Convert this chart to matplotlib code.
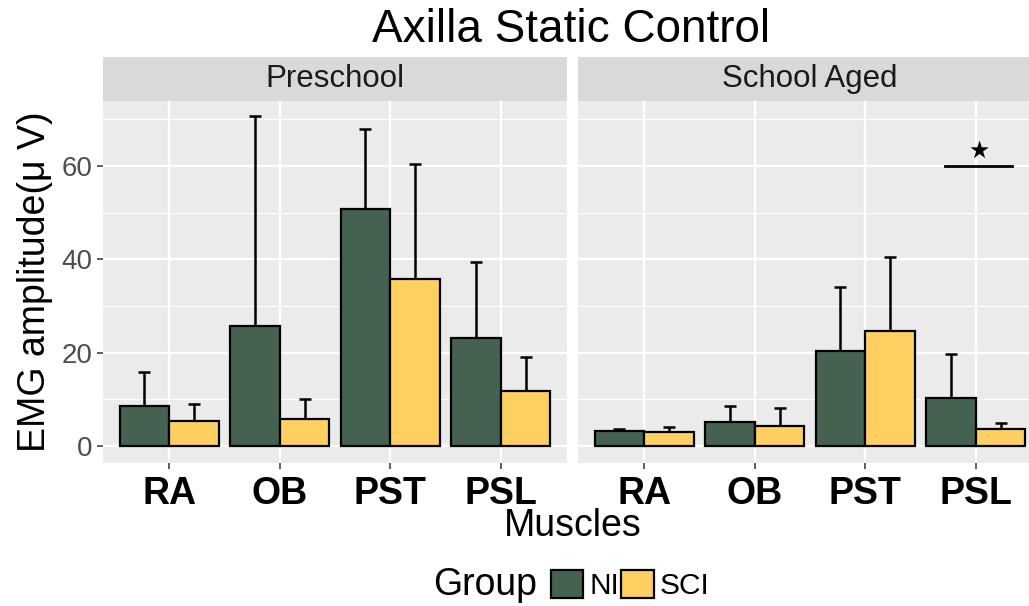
import numpy as np
import matplotlib
matplotlib.use("Agg")
import matplotlib.pyplot as plt
from matplotlib.patches import Patch

plt.rcParams['font.family'] = ['Liberation Sans', 'DejaVu Sans']

# data
muscles = ["RA", "OB", "PST", "PSL"]
panels = ["Preschool", "School Aged"]
groups = ["NI", "SCI"]

pre_ni = [8.6, 25.7, 50.7, 23.1]
pre_ni_top = [15.9, 70.6, 67.8, 39.5]
pre_sci = [5.3, 5.8, 35.8, 11.8]
pre_sci_top = [9.0, 10.0, 60.4, 19.0]

sch_ni = [3.2, 5.1, 20.4, 10.3]
sch_ni_top = [3.6, 8.7, 34.1, 19.7]
sch_sci = [3.0, 4.3, 24.6, 3.6]
sch_sci_top = [4.2, 8.1, 40.5, 5.0]

# significance marker on School Aged / PSL
sig_y = 60
sig_x = [3.72, 4.33]
star_y = 63.2

colors = {"NI": "#456150", "SCI": "#FED061"}

W, H = 1029, 606
fig = plt.figure(figsize=(W / 100, H / 100), dpi=100)


def px(x0, y0, x1, y1):
    # pixel box -> figure fraction
    return [x0 / W, 1 - y1 / H, (x1 - x0) / W, (y1 - y0) / H]


panel_boxes = [(103, 100.5, 567, 463), (578, 100.5, 1042, 463)]
strip_boxes = [(103, 57, 567, 100.5), (578, 57, 1042, 100.5)]
data = [(pre_ni, pre_ni_top, pre_sci, pre_sci_top),
        (sch_ni, sch_ni_top, sch_sci, sch_sci_top)]

x = np.arange(1, len(muscles) + 1)
bw = 0.45
axes = []
for i, name in enumerate(panels):
    ax = fig.add_axes(px(*panel_boxes[i]))
    axes.append(ax)
    ax.set_facecolor("#EBEBEB")
    for s in ax.spines.values():
        s.set_visible(False)
    ax.set_xlim(0.4, 4.6)
    ax.set_ylim(-3.6, 74.0)
    ax.set_yticks([0, 20, 40, 60])
    ax.set_yticks([10, 30, 50, 70], minor=True)
    ax.set_xticks(x)
    ax.grid(True, which="major", color="white", linewidth=1.6)
    ax.grid(True, which="minor", axis="y", color="white", linewidth=0.8)
    ax.set_axisbelow(True)
    ax.tick_params(which="major", length=4.5, width=1.1, color="#333333",
                   labelsize=20, labelcolor="#4D4D4D", pad=3)
    ax.tick_params(which="minor", length=0)
    ax.tick_params(axis="x", pad=5, labelcolor="black")
    ax.set_xticklabels(muscles, fontsize=27, fontweight="bold", color="black")
    if i == 1:
        ax.tick_params(axis="y", length=0, labelleft=False)

    ni, ni_top, sci, sci_top = data[i]
    for vals, tops, off, g in [(ni, ni_top, -bw / 2, "NI"), (sci, sci_top, bw / 2, "SCI")]:
        xs = x + off
        vals = np.array(vals)
        tops = np.array(tops)
        ax.errorbar(xs, vals, yerr=[np.zeros(len(vals)), tops - vals], fmt="none",
                    ecolor="black", elinewidth=1.8, capsize=4.3, capthick=1.8, zorder=2)
        ax.bar(xs, vals, width=bw, color=colors[g], edgecolor="black",
               linewidth=1.6, zorder=3)

    # strip on top
    sax = fig.add_axes(px(*strip_boxes[i]))
    sax.set_facecolor("#D9D9D9")
    sax.set_xticks([])
    sax.set_yticks([])
    for s in sax.spines.values():
        s.set_visible(False)
    sax.text(0.5, 0.5, name, transform=sax.transAxes, ha="center", va="center",
             fontsize=22.5, color="#1A1A1A")

axes[0].set_ylabel("EMG amplitude(μ V)", fontsize=27, labelpad=6)

ax = axes[1]
ax.plot(sig_x, [sig_y, sig_y], color="black", linewidth=2, zorder=4)
ax.text(4.03, star_y, "★", ha="center", va="center", fontsize=17,
        family=["DejaVu Sans"], zorder=4)

fig.text(571 / W, 1 - 30 / H, "Axilla Static Control", ha="center", va="center", fontsize=33)
fig.text(573 / W, 1 - 526 / H, "Muscles", ha="center", va="center", fontsize=27)

# legend
fig.text(433 / W, 1 - 585 / H, "Group", ha="left", va="center", fontsize=27)
handles = [Patch(facecolor=colors[g], edgecolor="black", linewidth=1.6) for g in groups]
fig.legend(handles, groups, loc="center left", bbox_to_anchor=(551 / W, 1 - 585 / H),
           ncol=2, frameon=False, fontsize=21.5, handlelength=1.08, handleheight=1.1,
           handletextpad=0.2, columnspacing=0.08, borderpad=0, borderaxespad=0)

plt.savefig("out.png", dpi=100)
